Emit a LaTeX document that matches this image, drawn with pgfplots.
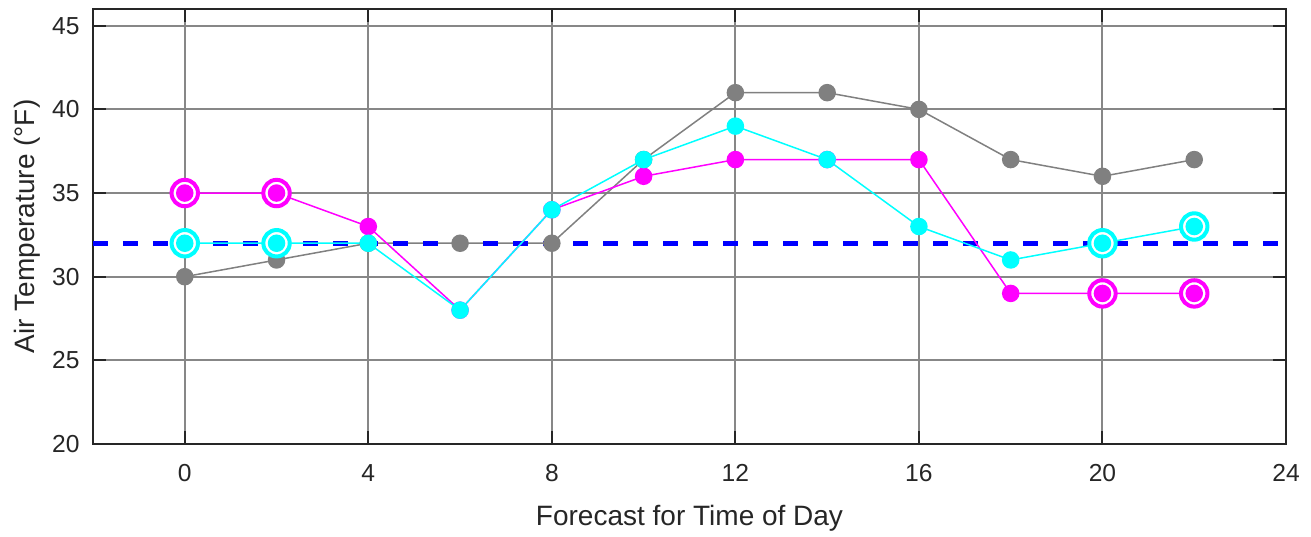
\documentclass[border=0pt]{standalone}
\usepackage{pgfplots}
\pgfplotsset{compat=1.18}
\usetikzlibrary{calc}
\usepackage{fontspec}
\setmainfont{Liberation Sans}
\definecolor{gridg}{RGB}{135,135,135}
\definecolor{serg}{RGB}{128,128,128}
\definecolor{axc}{RGB}{38,38,38}
\definecolor{mag}{RGB}{255,0,255}
\definecolor{cya}{RGB}{0,255,255}
\begin{document}
\begin{tikzpicture}
\begin{axis}[
  scale only axis,
  width=596.5pt, height=217.5pt,
  xmin=-2, xmax=24, ymin=20, ymax=46,
  xtick={0,4,...,24}, ytick={20,25,...,45},
  grid=major,
  major grid style={gridg, line width=1pt},
  axis line style={axc, line width=1pt},
  tick style={axc, line width=1pt},
  tick align=inside,
  major tick length=6.5pt,
  tick label style={font=\fontsize{12.3}{14}\selectfont, text=axc, inner sep=0pt},
  xticklabel style={anchor=base, yshift=-18.9pt},
  yticklabel style={anchor=east, xshift=-6.5pt},
  /pgf/number format/assume math mode=true,
  xlabel={Forecast for Time of Day},
  ylabel={Air Temperature (°F)},
  every axis x label/.style={at={(rel axis cs:0.5,0)}, anchor=base, yshift=-40.5pt, font=\fontsize{14}{16}\selectfont, text=axc, inner sep=0pt},
  every axis y label/.style={at={(rel axis cs:0,0.5)}, anchor=center, rotate=90, yshift=33pt, font=\fontsize{14}{16}\selectfont, text=axc, inner sep=0pt},
  clip=false,
]
\coordinate (bl) at (rel axis cs:0,0);
\coordinate (tr) at (rel axis cs:1,1);
% gray series
\addplot[serg, line width=0.75pt, mark=*, mark size=4pt, mark options={fill=serg, draw=serg}] coordinates {
(0,30) (2,31) (4,32) (6,32) (8,32) (10,37) (12,41) (14,41) (16,40) (18,37) (20,36) (22,37)};
% freezing line
\addplot[blue, line width=2.4pt, dash pattern=on 7.5pt off 7.5pt, forget plot] coordinates {(-2,32) (24,32)};
% rings
\addplot[only marks, mark=*, mark size=6.6pt, mark options={draw=mag, fill=white, line width=2pt}] coordinates {(0,35) (2,35) (20,29) (22,29)};
\addplot[only marks, mark=*, mark size=6.6pt, mark options={draw=cya, fill=white, line width=2pt}] coordinates {(0,32) (2,32) (20,32) (22,33)};
% magenta series
\addplot[mag, line width=0.75pt, mark=*, mark size=4pt, mark options={fill=mag, draw=mag}] coordinates {
(0,35) (2,35) (4,33) (6,28) (8,34) (10,36) (12,37) (14,37) (16,37) (18,29) (20,29) (22,29)};
% cyan series
\addplot[cya, line width=0.75pt, mark=*, mark size=4pt, mark options={fill=cya, draw=cya}] coordinates {
(0,32) (2,32) (4,32) (6,28) (8,34) (10,37) (12,39) (14,37) (16,33) (18,31) (20,32) (22,33)};
\end{axis}
\path ($(bl)+(-46.5pt,-46pt)$) rectangle ($(tr)+(12.5pt,4.5pt)$);
\end{tikzpicture}
\end{document}
